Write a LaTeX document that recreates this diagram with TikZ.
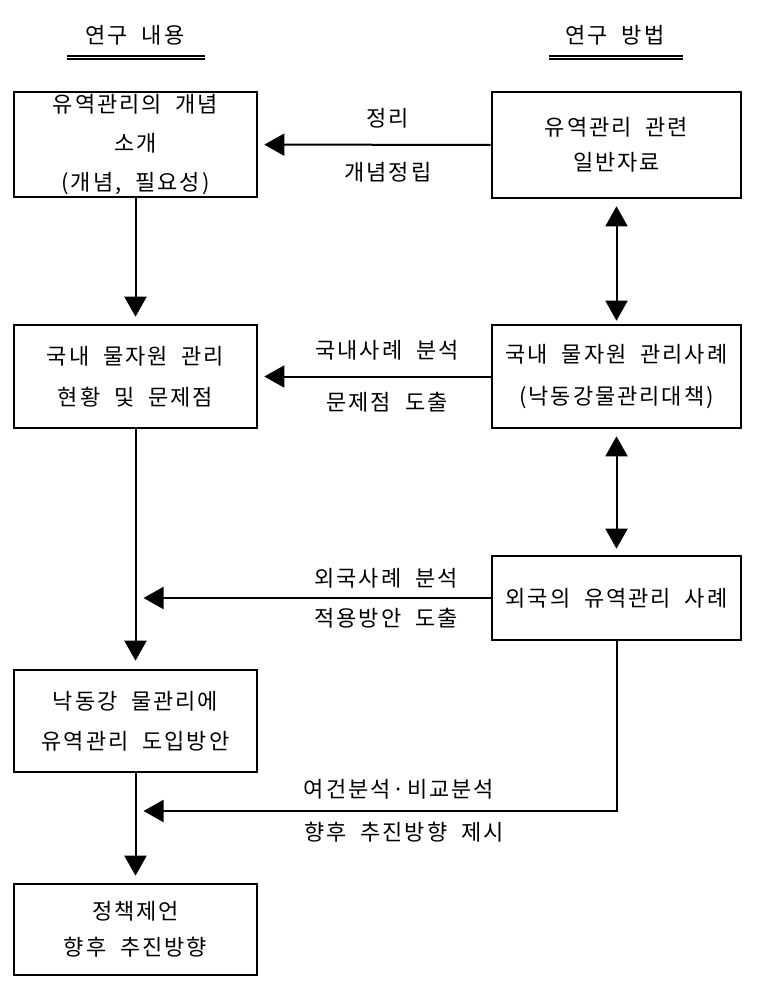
\documentclass[tikz,border=0pt]{standalone}
\usepackage{fontspec}
\setmainfont{Noto Sans CJK KR}[LetterSpace=9,WordSpace=2]
\usetikzlibrary{arrows.meta,positioning,calc}

\tikzset{
	box/.style={draw, line width=2.6pt, minimum width=243pt, align=center, inner sep=0pt,
		font=\fontsize{22}{39}\selectfont},
	lbl/.style={inner sep=0pt, font=\fontsize{22}{24}\selectfont},
	tri/.tip={Triangle[width=22pt,length=20pt]},
	flow/.style={line width=2pt, -tri},
	both/.style={line width=2pt, tri-tri},
	dline/.style={double, line width=2pt, double distance=1pt}
}

\begin{document}
\begin{tikzpicture}[x=1pt, y=-1pt]
		\useasboundingbox (0,0) rectangle (761,991);
		% headers
		\node[lbl] (hcontent) at (135,35) {연구 내용};
		\node[lbl] (hmethod) at (615,35) {연구 방법};
		\draw[dline] ($(hcontent)+(-68,22)$) -- ($(hcontent)+(70,22)$);
		\draw[dline] ($(hmethod)+(-66,22)$) -- ($(hmethod)+(68,22)$);
		% left column
		\node[box, minimum height=105pt] (concept) at (135.5,144.5) {유역관리의 개념\\소개\\(개념, 필요성)};
		\node[box, minimum height=103pt] (domestic) at (135.5,376.5) {국내 물자원 관리\\[2pt]현황 및 문제점};
		\node[box, minimum height=102pt] (nakdong) at (135.5,721) {낙동강 물관리에\\[1pt]유역관리 도입방안};
		\node[box, minimum height=91pt] (policy) at (135.5,929.5) {정책제언\\[-3pt]향후 추진방향};
		% right column
		\node[box, minimum width=249pt, minimum height=106pt] (general) at (616.5,145) {유역관리 관련\\[-4pt]일반자료};
		\node[box, minimum width=249pt, minimum height=103pt] (dcase) at (616.5,376.5) {국내 물자원 관리사례\\[3pt](낙동강물관리대책)};
		\node[box, minimum width=249pt, minimum height=84pt] (fcase) at (616.5,598) {외국의 유역관리 사례};
		\coordinate (join) at (nakdong.south |- 0,811);
		% connectors
		\draw[flow, shorten >=6pt] (general) -- (concept);
		\draw[flow, shorten >=6pt] (dcase) -- (domestic);
		\draw[flow, shorten >=8pt] (fcase.west) -- (fcase.west -| domestic.south);
		\draw[flow, shorten >=8pt] (fcase.south) |- (join);
		\draw[flow, shorten >=7pt] (concept) -- (domestic);
		\draw[flow, shorten >=8pt] (domestic) -- (nakdong);
		\draw[flow, shorten >=7pt] (nakdong) -- (policy);
		\draw[both, shorten <=7pt, shorten >=3pt] (general) -- (dcase);
		\draw[both, shorten <=7pt, shorten >=6pt] (dcase) -- (fcase);
		% connector labels
		\node[lbl] (l1a) at (388,118) {정리};
		\node[lbl] (l1b) at (388,172) {개념정립};
		\node[lbl] (l2a) at (387,350) {국내사례 분석};
		\node[lbl] (l2b) at (387,402) {문제점 도출};
		\node[lbl] (l3a) at (386,578) {외국사례 분석};
		\node[lbl] (l3b) at (386,618) {적용방안 도출};
		\node[lbl] (l4a) at (399,789) {여건분석·비교분석};
		\node[lbl] (l4b) at (404,832) {향후 추진방향 제시};
	\end{tikzpicture}
\end{document}
